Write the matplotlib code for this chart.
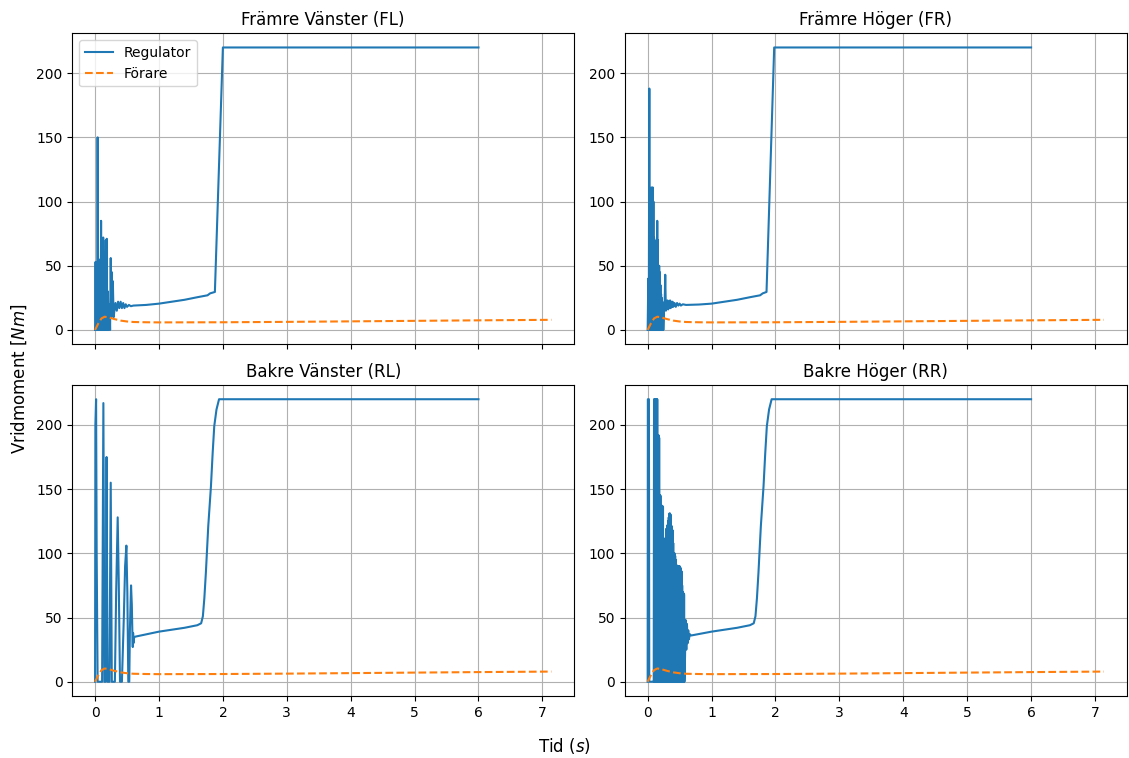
from matplotlib import pyplot as plt

# (tid [s], vridmoment [Nm]) per hjul, avläst från originalfiguren
fl_reg = [(0, 0), (0.008, 53), (0.016, 0), (0.025, 48), (0.032, 0), (0.04, 150), (0.05, 0),
          (0.06, 30), (0.07, 0), (0.08, 55), (0.087, 0), (0.094, 85), (0.10, 0), (0.11, 40),
          (0.118, 0), (0.127, 72), (0.135, 0), (0.145, 60), (0.155, 0), (0.168, 70), (0.175, 0),
          (0.183, 71), (0.19, 0), (0.20, 30), (0.21, 0), (0.225, 20), (0.235, 0), (0.245, 56),
          (0.255, 10), (0.262, 45), (0.27, 20), (0.278, 38), (0.29, 10), (0.30, 14), (0.32, 21),
          (0.34, 15), (0.36, 22), (0.38, 17), (0.40, 22), (0.42, 17), (0.44, 21), (0.46, 17),
          (0.48, 20), (0.50, 18), (0.53, 19.5), (0.56, 18.5), (0.6, 19), (0.8, 19.5), (1.0, 20.5),
          (1.2, 22), (1.4, 23.5), (1.6, 25.5), (1.76, 27), (1.8, 28.5), (1.875, 29.6),
          (2.0, 220), (6.0, 220)]

fr_reg = [(0, 0), (0.01, 40), (0.018, 0), (0.026, 188), (0.032, 0), (0.04, 100), (0.045, 0),
          (0.05, 108), (0.055, 0), (0.06, 111), (0.065, 0), (0.07, 105), (0.075, 0), (0.08, 111),
          (0.085, 0), (0.09, 100), (0.095, 0), (0.10, 72), (0.105, 0), (0.11, 70), (0.115, 0),
          (0.12, 60), (0.125, 0), (0.13, 55), (0.135, 0), (0.14, 62), (0.145, 0), (0.15, 85),
          (0.155, 0), (0.16, 70), (0.165, 0), (0.17, 50), (0.175, 0), (0.18, 50), (0.185, 0),
          (0.19, 45), (0.195, 5), (0.20, 35), (0.205, 0), (0.21, 28), (0.215, 0), (0.22, 25),
          (0.225, 5), (0.23, 22), (0.235, 0), (0.24, 20), (0.245, 0), (0.255, 15), (0.265, 18),
          (0.275, 43), (0.285, 15), (0.29, 22), (0.30, 17), (0.31, 23), (0.32, 16), (0.33, 22),
          (0.34, 17), (0.35, 23), (0.36, 17), (0.37, 22), (0.38, 18), (0.39, 22), (0.40, 18),
          (0.42, 21), (0.44, 18), (0.46, 21), (0.48, 19), (0.50, 20.5), (0.52, 19), (0.55, 20),
          (0.6, 19.5), (0.8, 19.8), (1.0, 20.5), (1.2, 22), (1.4, 23.5), (1.6, 25.5), (1.76, 27),
          (1.8, 28.5), (1.86, 29.6), (1.98, 220), (6.0, 220)]

rl_reg = [(0, 0), (0.005, 200), (0.016, 220), (0.025, 100), (0.04, 0), (0.11, 0), (0.13, 217),
          (0.146, 0), (0.165, 0), (0.18, 175), (0.195, 0), (0.225, 0), (0.245, 155), (0.262, 0),
          (0.31, 0), (0.33, 70), (0.354, 128), (0.37, 80), (0.39, 0), (0.42, 0), (0.45, 50),
          (0.47, 90), (0.49, 106), (0.505, 70), (0.52, 0), (0.535, 0), (0.545, 40), (0.563, 75),
          (0.575, 60), (0.585, 35), (0.59, 27), (0.595, 38), (0.60, 30), (0.61, 34), (0.62, 35),
          (1.0, 39), (1.4, 42), (1.6, 44), (1.66, 45.5), (1.687, 51), (1.71, 65), (1.734, 85),
          (1.771, 121), (1.813, 152), (1.84, 178), (1.865, 199), (1.90, 212), (1.94, 220),
          (6.0, 220)]

rr_reg = [(0, 0), (0.003, 220), (0.02, 220), (0.025, 0), (0.09, 0), (0.095, 0),
          (0.10, 220), (0.105, 0), (0.11, 220), (0.115, 0), (0.12, 220), (0.125, 0),
          (0.13, 220), (0.135, 0), (0.14, 220), (0.145, 0), (0.15, 220), (0.155, 0),
          (0.16, 192), (0.165, 0), (0.17, 192), (0.175, 0), (0.18, 190), (0.185, 0),
          (0.19, 145), (0.195, 0), (0.20, 145), (0.205, 0), (0.21, 137), (0.215, 0),
          (0.22, 137), (0.225, 0), (0.23, 137), (0.235, 0), (0.24, 136), (0.245, 0),
          (0.25, 108), (0.255, 0), (0.26, 108), (0.265, 0), (0.27, 108), (0.275, 0),
          (0.28, 112), (0.285, 0), (0.29, 119), (0.295, 0), (0.30, 119), (0.305, 0),
          (0.31, 122), (0.315, 0), (0.32, 125), (0.325, 0), (0.33, 128), (0.335, 0),
          (0.34, 131), (0.345, 0), (0.35, 131), (0.355, 0), (0.36, 130), (0.365, 0),
          (0.37, 121), (0.375, 0), (0.38, 121), (0.385, 0), (0.39, 118), (0.395, 0),
          (0.40, 108), (0.405, 0), (0.41, 100), (0.415, 0), (0.42, 100), (0.425, 0),
          (0.43, 98), (0.435, 0), (0.44, 95), (0.445, 0), (0.45, 91), (0.455, 0),
          (0.46, 90), (0.465, 0), (0.47, 90), (0.475, 0), (0.48, 90), (0.485, 0),
          (0.49, 90), (0.495, 0), (0.50, 90), (0.505, 0), (0.51, 89), (0.515, 0),
          (0.52, 88), (0.525, 0), (0.53, 86), (0.535, 0), (0.54, 75), (0.545, 0),
          (0.55, 70), (0.555, 0), (0.56, 69), (0.565, 0), (0.57, 68), (0.575, 0),
          (0.585, 20), (0.595, 48), (0.605, 25), (0.615, 45), (0.625, 30), (0.635, 40),
          (0.645, 33), (0.66, 37), (0.68, 36), (1.0, 39), (1.4, 42), (1.6, 44), (1.66, 45.5),
          (1.687, 51), (1.71, 65), (1.734, 85), (1.771, 121), (1.813, 152), (1.84, 178),
          (1.865, 199), (1.90, 212), (1.94, 220), (6.0, 220)]

forare = [(0, 0), (0.05, 5), (0.1, 9), (0.15, 10.3), (0.2, 10), (0.3, 8.5), (0.4, 7.3),
          (0.5, 6.6), (0.6, 6.2), (0.8, 6.0), (1.0, 5.9), (2, 6.0), (3, 6.3), (4, 6.7),
          (5, 7.1), (6, 7.5), (7.14, 7.9)]

titles = ["Främre Vänster (FL)", "Främre Höger (FR)", "Bakre Vänster (RL)", "Bakre Höger (RR)"]
regulator = [fl_reg, fr_reg, rl_reg, rr_reg]

fig, axes = plt.subplots(2, 2, sharex=True, figsize=(11.29, 7.58), dpi=100)

for ax, title, reg in zip(axes.flat, titles, regulator):
    t, v = zip(*reg)
    tf, vf = zip(*forare)
    ax.plot(t, v, label="Regulator")
    ax.plot(tf, vf, "--", label="Förare")
    ax.set_title(title)
    ax.grid(True)

axes[0, 0].legend(loc="upper left")

fig.supxlabel("Tid ($s$)", y=0.003)
fig.supylabel("Vridmoment [$Nm$]", x=0.008)
fig.subplots_adjust(left=0.064, right=0.998, top=0.956, bottom=0.082, hspace=0.132, wspace=0.101)

plt.savefig("out.png")
